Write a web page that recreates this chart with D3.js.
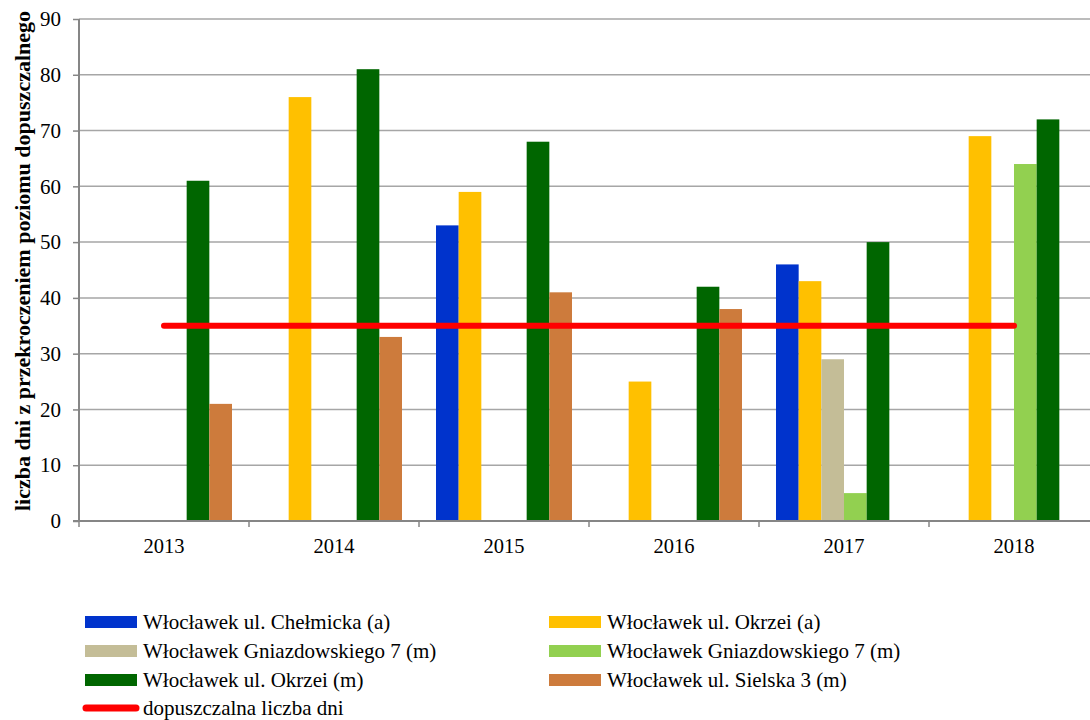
<!DOCTYPE html>
<html>
<head>
<meta charset="utf-8">
<script src="https://cdn.jsdelivr.net/npm/d3@7"></script>
<style>
  body { margin: 0; background: #fff; }
  svg text { font-family: "Liberation Serif", "Times New Roman", serif; fill: #000; }
</style>
</head>
<body>
<div id="chart"></div>
<script>
var years = ["2013", "2014", "2015", "2016", "2017", "2018"];
var seriesNames = [
    "Włocławek ul. Chełmicka (a)",
    "Włocławek ul. Okrzei (a)",
    "Włocławek Gniazdowskiego 7 (m)",
    "Włocławek Gniazdowskiego 7 (m)",
    "Włocławek ul. Okrzei (m)",
    "Włocławek ul. Sielska 3 (m)"
];
var seriesColors = ["#0033cc", "#ffc000", "#c4bd97", "#92d050", "#006600", "#cd7b3c"];
// values per series, null = no measurement
var chelmickaA = [null, null, 53, null, 46, null];
var okrzeiA = [null, 76, 59, 25, 43, 69];
var gniazdA = [null, null, null, null, 29, null];
var gniazdB = [null, null, null, null, 5, 64];
var okrzeiM = [61, 81, 68, 42, 50, 72];
var sielskaM = [21, 33, 41, 38, null, null];
var limitValues = [35, 35, 35, 35, 35, 35];
var limitName = "dopuszczalna liczba dni";
var yTicks = [0, 10, 20, 30, 40, 50, 60, 70, 80, 90];

var seriesValues = [chelmickaA, okrzeiA, gniazdA, gniazdB, okrzeiM, sielskaM];

var width = 1090, height = 720;
var svg = d3.select("#chart").append("svg")
    .attr("width", width)
    .attr("height", height);

var serif = "'Liberation Serif', 'Times New Roman', serif";

var x = d3.scaleBand().domain(years).range([79, 1099]).paddingInner(0).paddingOuter(0);
var inner = d3.scaleBand().domain(d3.range(6)).range([17, 170 - 17]);
var y = d3.scaleLinear().domain([0, 90]).range([521, 19]);

// gridlines
svg.append("g")
    .selectAll("line")
    .data(yTicks.slice(1))
    .enter()
        .append("line")
        .attr("x1", 79).attr("x2", 1099)
        .attr("y1", function(d) { return y(d); })
        .attr("y2", function(d) { return y(d); })
        .attr("stroke", "#a6a6a6")
        .attr("stroke-width", 1.5);

// bars
var bars = [];
seriesValues.forEach(function(vals, s) {
    vals.forEach(function(v, i) {
        if (v !== null) bars.push({ s: s, year: years[i], value: v });
    });
});

svg.append("g")
    .selectAll("rect")
    .data(bars)
    .enter()
        .append("rect")
        .attr("x", function(d) { return x(d.year) + inner(d.s); })
        .attr("y", function(d) { return y(d.value); })
        .attr("width", inner.bandwidth())
        .attr("height", function(d) { return y(0) - y(d.value); })
        .attr("fill", function(d) { return seriesColors[d.s]; });

// limit line
var line = d3.line()
    .x(function(d, i) { return x(years[i]) + x.bandwidth() / 2; })
    .y(function(d) { return y(d); });

svg.append("path")
    .datum(limitValues)
    .attr("d", line)
    .attr("fill", "none")
    .attr("stroke", "#ff0000")
    .attr("stroke-width", 6)
    .attr("stroke-linecap", "round");

// axes
var yAxis = svg.append("g")
    .attr("transform", "translate(79,0)")
    .call(d3.axisLeft(y).tickValues(yTicks).tickSize(6).tickPadding(12));
yAxis.selectAll("text").style("font-size", "21px").style("font-family", serif);

var xAxis = svg.append("g")
    .attr("transform", "translate(0,521)")
    .call(d3.axisBottom(x).tickSize(0).tickPadding(17));
xAxis.selectAll("text").style("font-size", "20.5px").style("font-family", serif);

// x category ticks at group boundaries
xAxis.append("g")
    .selectAll("line")
    .data(years)
    .enter()
        .append("line")
        .attr("x1", function(d) { return x(d); })
        .attr("x2", function(d) { return x(d); })
        .attr("y1", 0).attr("y2", 6)
        .attr("stroke", "#868686")
        .attr("stroke-width", 1.5);

svg.selectAll(".domain").attr("stroke", "#868686").attr("stroke-width", 2);
yAxis.selectAll(".tick line").attr("stroke", "#868686").attr("stroke-width", 1.5);
yAxis.select(".domain").attr("d", "M0,19V521");
xAxis.select(".domain").attr("d", "M73,0H1099");

// y axis title
svg.append("text")
    .attr("transform", "translate(30,261) rotate(-90)")
    .attr("text-anchor", "middle")
    .style("font-size", "22px")
    .style("font-weight", "bold")
    .style("font-family", serif)
    .text("liczba dni z przekroczeniem poziomu dopuszczalnego");

// legend
var legendItems = seriesNames.map(function(n, i) {
    return { name: n, color: seriesColors[i], col: i % 2, row: Math.floor(i / 2) };
});
var colX = [85, 549];
var rowY = [622, 651, 680, 708];

var leg = svg.append("g");
leg.selectAll("rect")
    .data(legendItems)
    .enter()
        .append("rect")
        .attr("x", function(d) { return colX[d.col]; })
        .attr("y", function(d) { return rowY[d.row] - 6; })
        .attr("width", 52)
        .attr("height", 12)
        .attr("fill", function(d) { return d.color; });

leg.selectAll("text")
    .data(legendItems)
    .enter()
        .append("text")
        .attr("x", function(d) { return colX[d.col] + 58; })
        .attr("y", function(d) { return rowY[d.row]; })
        .attr("dy", "0.35em")
        .style("font-size", "21px")
        .style("font-family", serif)
        .text(function(d) { return d.name; });

leg.append("line")
    .attr("x1", 86).attr("x2", 136)
    .attr("y1", rowY[3]).attr("y2", rowY[3])
    .attr("stroke", "#ff0000")
    .attr("stroke-width", 7)
    .attr("stroke-linecap", "round");
leg.append("text")
    .attr("x", 143)
    .attr("y", rowY[3])
    .attr("dy", "0.35em")
    .style("font-size", "21px")
    .style("font-family", serif)
    .text(limitName);
</script>
</body>
</html>
